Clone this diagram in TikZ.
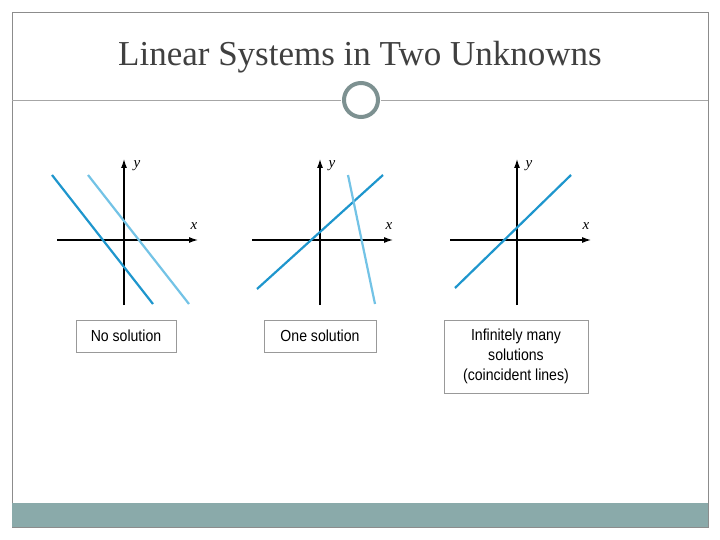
\documentclass[tikz,border=0pt]{standalone}
\usepackage{fontspec}
\setmainfont{Liberation Serif}
\newfontfamily\lsans[FakeStretch=0.88]{Liberation Sans}
\begin{document}
\begin{tikzpicture}[x=1pt,y=-1pt,
  frame/.style={draw=black!45,line width=0.8pt},
  rule/.style={draw=gray!70,line width=0.8pt},
  ax/.style={line width=1.2pt,-{Latex[length=9pt,width=6pt]}},
  dk/.style={draw={rgb,255:red,30;green,150;blue,205},line width=2.2pt},
  lt/.style={draw={rgb,255:red,115;green,195;blue,230},line width=2.2pt},
  lab/.style={font=\itshape\fontsize{15}{17}\selectfont},
  box/.style={draw=black!40,line width=0.8pt,fill=white,font=\lsans\fontsize{16}{20}\selectfont,align=center,inner sep=4pt}]
\usetikzlibrary{arrows.meta}
\definecolor{teal1}{RGB}{138,170,170}
\definecolor{ring}{RGB}{125,145,145}
\useasboundingbox (0,0) rectangle (720,540);
\fill[white] (0,0) rectangle (720,540);
\draw[frame] (12,12) rectangle (708,527);
\fill[teal1] (12,503) rectangle (708,527);
\node[text=black!75] (title) at (360,57) {\fontsize{35}{40}\selectfont Linear Systems in Two Unknowns};
\coordinate (l1) at (12,100); \coordinate (l2) at (341,100);
\coordinate (r1) at (381,100); \coordinate (r2) at (708,100);
\draw[rule] (l1) -- (l2); \draw[rule] (r1) -- (r2);
\node[circle,draw=ring,line width=4pt,minimum size=34pt,inner sep=0pt] (ring) at (361,100) {};
% graph 1
\coordinate (a1) at (57,240); \coordinate (a2) at (198,240);
\coordinate (b1) at (124,305); \coordinate (b2) at (124,159);
\draw[ax] (a1) -- (a2); \draw[ax] (b1) -- (b2);
\node[lab] (x1) at (194,226) {x}; \node[lab] (y1) at (137,166) {y};
\coordinate (d1) at (52,175); \coordinate (d2) at (153,304);
\coordinate (e1) at (88,175); \coordinate (e2) at (189,304);
\draw[dk] (d1) -- (d2); \draw[lt] (e1) -- (e2);
% graph 2
\coordinate (a3) at (252,240); \coordinate (a4) at (393,240);
\coordinate (b3) at (320,305); \coordinate (b4) at (320,159);
\draw[ax] (a3) -- (a4); \draw[ax] (b3) -- (b4);
\node[lab] (x2) at (389,226) {x}; \node[lab] (y2) at (332,166) {y};
\coordinate (d3) at (257,289); \coordinate (d4) at (383,175);
\coordinate (e3) at (348,175); \coordinate (e4) at (375,304);
\draw[dk] (d3) -- (d4); \draw[lt] (e3) -- (e4);
% graph 3
\coordinate (a5) at (450,240); \coordinate (a6) at (591,240);
\coordinate (b5) at (517,305); \coordinate (b6) at (517,159);
\draw[ax] (a5) -- (a6); \draw[ax] (b5) -- (b6);
\node[lab] (x3) at (586,226) {x}; \node[lab] (y3) at (529,166) {y};
\coordinate (d5) at (455,288); \coordinate (d6) at (571,175);
\draw[dk] (d5) -- (d6);
% boxes
\node[box,minimum width=100pt,minimum height=32pt] (n1) at (126,336) {No solution};
\node[box,minimum width=112pt,minimum height=32pt] (n2) at (320,336) {One solution};
\node[box,minimum width=144pt,minimum height=73pt] (n3) at (516,356.5) {Infinitely many\\solutions\\(coincident lines)};
\end{tikzpicture}
\end{document}
